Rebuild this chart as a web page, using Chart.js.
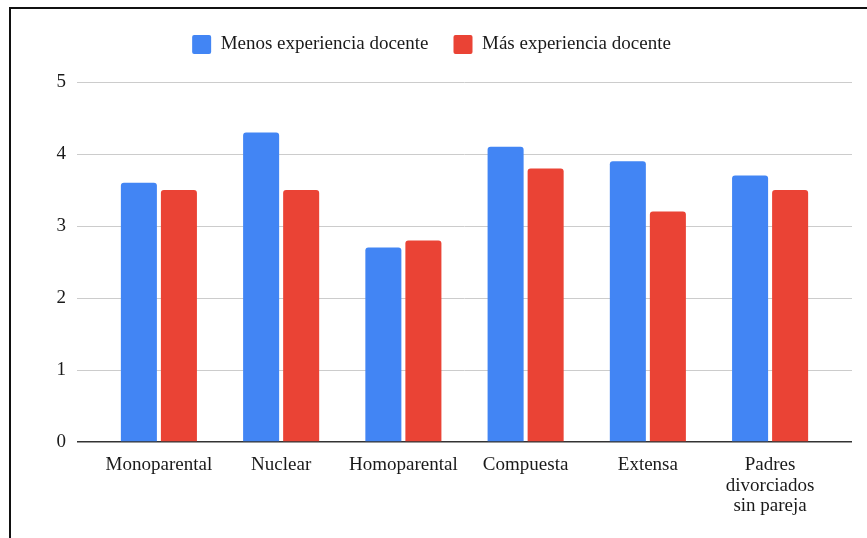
<!DOCTYPE html>
<html>
<head>
<meta charset="utf-8">
<script src="https://cdn.jsdelivr.net/npm/chart.js@4"></script>
<style>
  body { margin: 0; background: #fff; }
  .frame {
    position: absolute; left: 9px; top: 7px;
    width: 858px; height: 531px;
    border-top: 2px solid #111; border-left: 2px solid #111;
  }
  canvas { display: block; }
</style>
</head>
<body>
<div class="frame"><canvas id="chart" width="856" height="529"></canvas></div>
<script>
const categories = ['Monoparental', 'Nuclear', 'Homoparental', 'Compuesta', 'Extensa', ['Padres', 'divorciados', 'sin pareja']];
const menosExperiencia = [3.6, 4.3, 2.7, 4.1, 3.9, 3.7];
const masExperiencia = [3.5, 3.5, 2.8, 3.8, 3.2, 3.5];
const yTicks = [0, 1, 2, 3, 4, 5];

const serif = "'Liberation Serif', 'Times New Roman', serif";

// x as a linear scale so the bar groups sit inset from the gridline ends
const toPoints = arr => arr.map((v, i) => ({ x: i, y: v }));

// extra room under the legend
const legendGap = {
  id: 'legendGap',
  beforeInit(chart) {
    const fit = chart.legend.fit;
    chart.legend.fit = function () {
      fit.bind(chart.legend)();
      this.height += 18;
    };
  }
};

new Chart(document.getElementById('chart'), {
  type: 'bar',
  data: {
    datasets: [{
      label: 'Menos experiencia docente',
      data: toPoints(menosExperiencia),
      backgroundColor: '#4285f4',
      borderRadius: 3,
      borderSkipped: 'start'
    }, {
      label: 'Más experiencia docente',
      data: toPoints(masExperiencia),
      backgroundColor: '#ea4335',
      borderRadius: 3,
      borderSkipped: 'start'
    }]
  },
  plugins: [legendGap],
  options: {
    responsive: false,
    animation: false,
    categoryPercentage: 0.655,
    barPercentage: 0.9,
    layout: { padding: { left: 0, right: 15, top: 1, bottom: 0 } },
    plugins: {
      legend: {
        position: 'top',
        labels: {
          font: { family: serif, size: 19 },
          color: '#1a1a1a',
          boxWidth: 19,
          boxHeight: 19,
          useBorderRadius: true,
          borderRadius: 2,
          padding: 25
        }
      },
      tooltip: { enabled: false }
    },
    scales: {
      x: {
        type: 'linear',
        offset: false,
        min: -0.67,
        max: 5.67,
        afterBuildTicks: axis => { axis.ticks = categories.map((_, i) => ({ value: i })); },
        afterFit: axis => { axis.height = 96; },
        ticks: {
          callback: v => categories[v],
          font: { family: serif, size: 19, lineHeight: 1.08 },
          color: '#1a1a1a',
          padding: 5,
          maxRotation: 0,
          autoSkip: false
        },
        grid: { display: false },
        border: { display: false }
      },
      y: {
        min: 0,
        max: 5,
        afterBuildTicks: axis => { axis.ticks = yTicks.map(v => ({ value: v })); },
        afterFit: axis => { axis.width = 66; },
        ticks: {
          font: { family: serif, size: 19 },
          color: '#1a1a1a',
          padding: 11
        },
        grid: {
          color: ctx => ctx.tick && ctx.tick.value === 0 ? '#333' : '#ccc',
          lineWidth: ctx => ctx.tick && ctx.tick.value === 0 ? 1.5 : 1,
          drawTicks: false
        },
        border: { display: false }
      }
    }
  }
});
</script>
</body>
</html>
